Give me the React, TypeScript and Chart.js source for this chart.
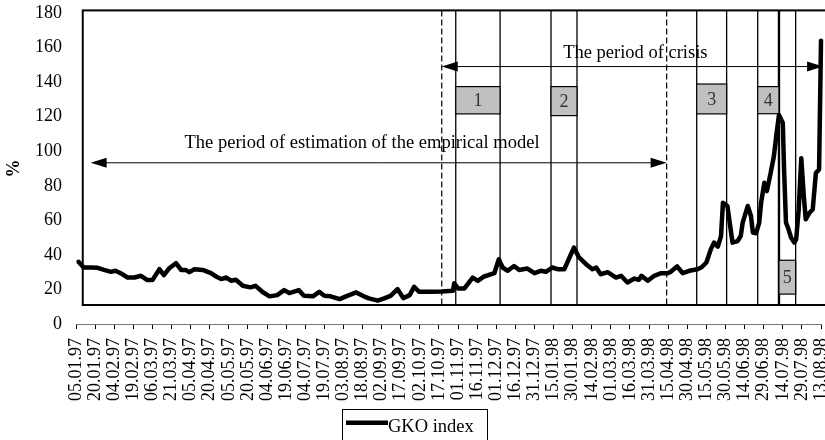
import React, { useEffect, useRef } from "react";
import { Chart, registerables } from "chart.js";

Chart.register(...registerables);

// Day offsets counted from 05.01.97, and the GKO index (%)
const gkoDay: number[] = [
  2, 6, 12, 17, 22, 27.5, 31, 35, 40.5, 46, 51, 56, 60, 65.5, 69, 73, 78.5, 82.5, 86, 89,
  93, 99.5, 106, 110, 114, 118, 122, 125.5, 131, 137, 141, 146.5, 152, 158, 163.5, 167.5, 175, 179, 186, 191,
  195, 200, 207, 213, 220, 226, 230, 237, 242, 247, 252.5, 257, 262, 265.5, 269.5, 279, 287, 296, 297, 300,
  305, 311.5, 315.5, 320.5, 328.5, 332, 335, 339, 344, 348, 354.5, 360, 365, 369, 374, 378, 383.5, 387.5, 391, 395,
  400.5, 405.5, 408.5, 412, 417.5, 424, 428, 433, 438.5, 442, 444, 449, 454, 459.5, 464.5, 467, 472, 476.5, 481.5, 488,
  491, 495, 498.5, 501, 504, 506.5, 508, 511.5, 515.5, 519.5, 522, 523.5, 527.5, 530, 531.5, 534, 536.5, 538, 540.5, 542.5,
  545.5, 548, 550, 552, 555, 556, 557.5, 559.5, 561.5, 564, 565.5, 567.5, 569.5, 571.5, 573, 576, 578.5, 581, 583.5, 585,
];
const gkoValue: number[] = [
  36, 32.7, 32.7, 32.5, 31.3, 30.2, 30.8, 29.4, 26.9, 26.9, 27.9, 25.4, 25.4, 31.7, 28.3, 32.1, 35.2, 31.3, 31.3, 30,
  31.7, 31.3, 29.4, 27.5, 26, 26.9, 25, 25.6, 22.1, 21.2, 22.1, 18.5, 16, 16.7, 19.6, 17.9, 19.6, 16.3, 16, 18.6,
  16.3, 16, 14.4, 16.3, 18.3, 16, 14.8, 13.5, 14.8, 16.3, 20.2, 15, 16.7, 21.5, 18.6, 18.6, 18.8, 19.2, 23.6, 20.6,
  20.6, 26.9, 25, 27.5, 29.4, 37.5, 32.7, 30.8, 33.6, 31.3, 32.1, 29.4, 30.8, 30.2, 32.7, 31.7, 31.7, 38.5, 44.2, 38.5,
  34.6, 31.7, 32.7, 28.8, 30, 26.9, 27.9, 24, 26.3, 25.6, 27.9, 25, 27.9, 29.4, 29.4, 30.2, 33.3, 29.4, 30.8, 31.7,
  32.7, 35.6, 43.3, 47.1, 44.8, 50.9, 70.2, 68.3, 47.1, 48, 50.9, 58.7, 68.3, 62.5, 52.9, 52.5, 58.7, 70.2, 81.7, 76.9,
  87.5, 97.1, 109.6, 121, 116.3, 89.4, 58.7, 54.8, 50, 47.1, 49, 66.3, 96, 74, 60.6, 64.4, 66.3, 87.5, 89.4, 164,
];

const tickLabels: string[] = [
  "05.01.97", "20.01.97", "04.02.97", "19.02.97", "06.03.97", "21.03.97", "05.04.97", "20.04.97",
  "05.05.97", "20.05.97", "04.06.97", "19.06.97", "04.07.97", "19.07.97", "03.08.97", "18.08.97",
  "02.09.97", "17.09.97", "02.10.97", "17.10.97", "01.11.97", "16.11.97", "01.12.97", "16.12.97",
  "31.12.97", "15.01.98", "30.01.98", "14.02.98", "01.03.98", "16.03.98", "31.03.98", "15.04.98",
  "30.04.98", "15.05.98", "30.05.98", "14.06.98", "29.06.98", "14.07.98", "29.07.98", "13.08.98",
];

// Annotation positions in data units (day offset / %)
const estimationPeriod: [number, number] = [11.5, 463.8];
const crisisPeriod: [number, number] = [287.2, 586.6];
const dashedLines: number[] = [287.2, 463.8];
const phaseBounds: [number, number][] = [
  [298.2, 333],
  [373, 393.4],
  [487.4, 510.9],
  [535.3, 552],
  [552, 565.1],
];
const phaseLabels: string[] = ["1", "2", "3", "4", "5"];
const phaseLabelRange: [number, number][] = [
  [121.6, 137.4],
  [120.6, 137.4],
  [121.6, 138.9],
  [121.7, 137.4],
  [17.3, 36.9],
];
const frameDays: [number, number] = [5.3, 590];
const frameValues: [number, number] = [11, 181.5];

const SERIF = '"Liberation Serif", "Times New Roman", serif';

function drawArrow(ctx: CanvasRenderingContext2D, x1: number, x2: number, y: number) {
  const len = 16;
  const half = 5;
  ctx.beginPath();
  ctx.moveTo(x1 + len - 2, y);
  ctx.lineTo(x2 - len + 2, y);
  ctx.stroke();
  ctx.beginPath();
  ctx.moveTo(x1, y);
  ctx.lineTo(x1 + len, y - half);
  ctx.lineTo(x1 + len, y + half);
  ctx.closePath();
  ctx.fill();
  ctx.beginPath();
  ctx.moveTo(x2, y);
  ctx.lineTo(x2 - len, y - half);
  ctx.lineTo(x2 - len, y + half);
  ctx.closePath();
  ctx.fill();
}

const annotationPlugin = {
  id: "gkoAnnotations",
  beforeDatasetsDraw(chart: any) {
    const { ctx } = chart;
    const xs = chart.scales.x;
    const ys = chart.scales.y;
    const px = (d: number) => xs.getPixelForValue(d);
    const py = (v: number) => ys.getPixelForValue(v);
    ctx.save();
    const top = py(frameValues[1]);
    const bottom = py(frameValues[0]);

    // vertical phase lines
    ctx.strokeStyle = "#000";
    const seen: Record<string, number> = {};
    phaseBounds.forEach(([a, b]) => {
      [a, b].forEach((d) => {
        const k = d.toFixed(1);
        seen[k] = (seen[k] || 0) + 1;
      });
    });
    Object.keys(seen).forEach((k) => {
      const x = px(parseFloat(k));
      ctx.lineWidth = seen[k] > 1 ? 2.4 : 1.3;
      ctx.beginPath();
      ctx.moveTo(x, top);
      ctx.lineTo(x, bottom);
      ctx.stroke();
    });

    // dashed lines
    ctx.lineWidth = 1.2;
    ctx.setLineDash([6, 3]);
    dashedLines.forEach((d) => {
      const x = px(d);
      ctx.beginPath();
      ctx.moveTo(x, top);
      ctx.lineTo(x, bottom);
      ctx.stroke();
    });
    ctx.setLineDash([]);

    // frame
    ctx.lineWidth = 2;
    ctx.strokeRect(px(frameDays[0]), top, px(frameDays[1]) - px(frameDays[0]), bottom - top);

    // label boxes
    ctx.font = `18px ${SERIF}`;
    ctx.textAlign = "center";
    ctx.textBaseline = "middle";
    phaseBounds.forEach(([a, b], i) => {
      const [lo, hi] = phaseLabelRange[i];
      const x1 = px(a);
      const x2 = px(b);
      const y1 = py(hi);
      const y2 = py(lo);
      ctx.fillStyle = "#c0c0c0";
      ctx.fillRect(x1, y1, x2 - x1, y2 - y1);
      ctx.lineWidth = 1.2;
      ctx.strokeStyle = "#000";
      ctx.strokeRect(x1, y1, x2 - x1, y2 - y1);
      ctx.fillStyle = "#333";
      ctx.fillText(phaseLabels[i], (x1 + x2) / 2, (y1 + y2) / 2 + 1);
    });

    // arrows
    ctx.fillStyle = "#000";
    ctx.strokeStyle = "#000";
    ctx.lineWidth = 1;
    drawArrow(ctx, px(estimationPeriod[0]), px(estimationPeriod[1]), py(93.3));
    drawArrow(ctx, px(crisisPeriod[0]), px(crisisPeriod[1]), py(149));

    ctx.fillStyle = "#000";
    ctx.font = `18.5px ${SERIF}`;
    ctx.fillText("The period of estimation of the empirical model", px(224.6), py(104.8));
    ctx.fillText("The period of crisis", px(439.2), py(156.7));
    ctx.restore();
  },
  afterDraw(chart: any) {
    const { ctx, width } = chart;
    ctx.save();
    const cx = width / 2 + 2;
    const bw = 145;
    const x0 = cx - bw / 2;
    ctx.strokeStyle = "#000";
    ctx.lineWidth = 1;
    ctx.strokeRect(x0 + 0.5, 409.5, bw, 40);
    ctx.lineWidth = 4.5;
    ctx.beginPath();
    ctx.moveTo(x0 + 4, 422.7);
    ctx.lineTo(x0 + 46, 422.7);
    ctx.stroke();
    ctx.fillStyle = "#000";
    ctx.font = `18.5px ${SERIF}`;
    ctx.textAlign = "left";
    ctx.textBaseline = "middle";
    ctx.fillText("GKO index", x0 + 46, 427);
    ctx.restore();
  },
};

export default function App() {
  const canvasRef = useRef<HTMLCanvasElement | null>(null);

  useEffect(() => {
    if (!canvasRef.current) return;
    const data = gkoDay.map((d, i) => ({ x: d, y: gkoValue[i] }));
    const chart = new Chart(canvasRef.current, {
      type: "line",
      data: {
        datasets: [
          {
            label: "GKO index",
            data,
            borderColor: "#000",
            backgroundColor: "#000",
            borderWidth: 4.5,
            pointRadius: 0,
            tension: 0,
            borderJoinStyle: "round",
            borderCapStyle: "round",
            clip: false as any,
          },
        ],
      },
      options: {
        responsive: false,
        animation: false,
        devicePixelRatio: 1,
        layout: { padding: { left: 0, right: 4, top: 13, bottom: 0 } },
        plugins: { legend: { display: false }, tooltip: { enabled: false } },
        scales: {
          x: {
            type: "linear",
            min: 0,
            max: 585,
            grid: { display: true, drawOnChartArea: false, drawTicks: true, tickLength: 5, color: "#000" },
            border: { display: true, color: "#777", width: 1 },
            ticks: {
              stepSize: 15,
              autoSkip: false,
              maxRotation: 90,
              minRotation: 90,
              padding: 9,
              color: "#000",
              font: { family: SERIF, size: 18 },
              callback: (v: any) => tickLabels[Math.round(Number(v) / 15)] ?? "",
            },
            afterFit: (scale: any) => {
              scale.height = 116;
              scale.paddingLeft = 0;
              scale.paddingRight = 0;
            },
          },
          y: {
            min: 0,
            max: 180,
            grid: { display: false, drawTicks: false },
            border: { display: false },
            ticks: {
              stepSize: 20,
              padding: 14,
              color: "#000",
              font: { family: SERIF, size: 18 },
            },
            title: {
              display: true,
              text: "%",
              color: "#000",
              font: { family: SERIF, size: 18, weight: "bold" },
              padding: { top: 4, bottom: 4 },
            },
            afterFit: (scale: any) => {
              scale.width = 76;
              scale.paddingTop = 0;
              scale.paddingBottom = 0;
            },
          },
        },
      },
      plugins: [annotationPlugin],
    });
    return () => chart.destroy();
  }, []);

  return (
    <div style={{ position: "absolute", left: 0, top: 0, width: 825, height: 440, background: "#fff" }}>
      <canvas ref={canvasRef} width={825} height={440} style={{ display: "block" }} />
    </div>
  );
}
